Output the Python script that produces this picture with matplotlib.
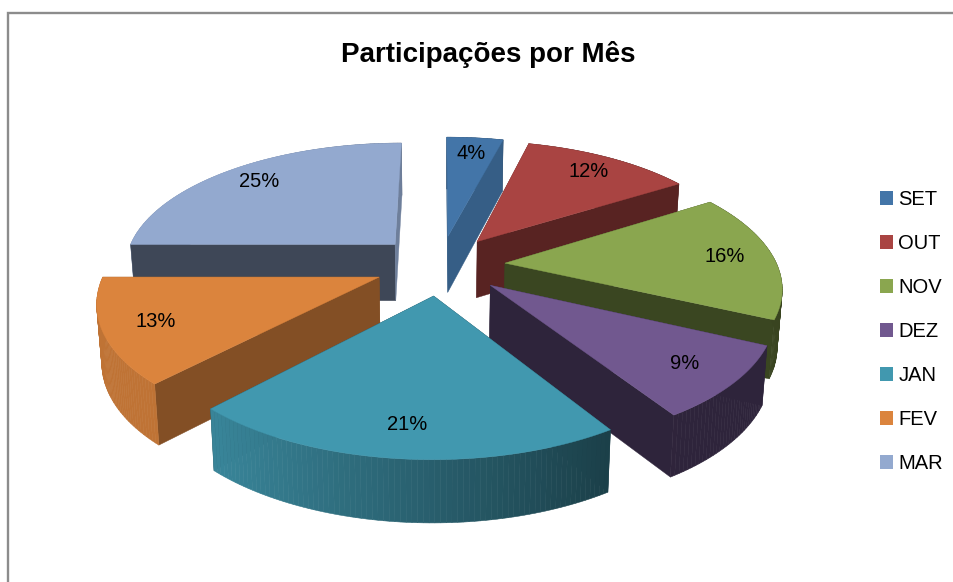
import numpy as np
import matplotlib
matplotlib.use("Agg")
import matplotlib.pyplot as plt
from matplotlib.patches import Patch
from matplotlib.colors import to_rgb

plt.rcParams['font.family'] = ['Liberation Sans', 'DejaVu Sans']

# data
title = "Participações por Mês"
months = ["SET", "OUT", "NOV", "DEZ", "JAN", "FEV", "MAR"]
shares = [4, 12, 16, 9, 21, 13, 25]

# styles
colors = ["#4375A8", "#A94442", "#8AA64F", "#71588F", "#4198AF", "#DB843D", "#93A9CF"]
start_wall_shade = [0.80, 0.52, 0.42, 0.41, 0.41, 0.60, 0.42]
end_wall_shade = [0.80, 0.52, 0.42, 0.41, 0.41, 0.60, 0.75]
draw_order = [6, 0, 1, 2, 3, 5, 4]

# projection parameters of the pie, in pixels of the figure
CX, CY, A, B, K = 440.0, 265.0, 272.0, 124.6, 0.167
EXPLODE = 0.24
HEIGHT, HK, XSHRINK = 57.0, 0.08, 0.985
LABEL_R = 0.82


def project(X, Y):
    w = 1 + K * Y
    return CX + A * X / w, CY - B * Y / w


def project_low(X, Y):
    x, y = project(X, Y)
    return CX + (x - CX) * XSHRINK, y + HEIGHT / (1 + HK * Y)


def shade(col, f):
    return tuple(c * f for c in to_rgb(col))


def outer_shade(t):
    return float(np.clip(0.62 - 0.38 * np.sin(t), 0.41, 0.87))


fig = plt.figure(figsize=(9.54, 5.82), dpi=100)
ax = fig.add_axes([0, 0, 1, 1])
ax.set_xlim(0, 954)
ax.set_ylim(582, 0)
ax.axis("off")

# chart frame
ax.plot([8, 8, 960], [590, 13, 13], color="#8c8c8c", lw=1.7, solid_joinstyle="miter", zorder=0)

fractions = np.array(shares, float) / sum(shares)
edges = np.concatenate([[0], np.cumsum(fractions)]) * 2 * np.pi

for z, i in enumerate(draw_order):
    t0, t1 = edges[i], edges[i + 1]
    mid = (t0 + t1) / 2
    ox, oy = EXPLODE * np.sin(mid), EXPLODE * np.cos(mid)
    ts = np.linspace(t0, t1, max(6, int((t1 - t0) * 60)))
    Xs, Ys = ox + np.sin(ts), oy + np.cos(ts)
    base = 10 * z + 1
    col = colors[i]

    def quad(t_a, t_b, zo):
        Xq = ox + np.sin([t_a, t_b])
        Yq = oy + np.cos([t_a, t_b])
        xt, yt = project(Xq, Yq)
        xb, yb = project_low(Xq, Yq)
        c = shade(col, outer_shade((t_a + t_b) / 2))
        ax.fill([xt[0], xt[1], xb[1], xb[0]], [yt[0], yt[1], yb[1], yb[0]],
                facecolor=c, edgecolor=c, lw=0.4, zorder=zo)

    # back-facing part of the rim, then radial walls, then the front of the rim
    for a, b in zip(ts[:-1], ts[1:]):
        front = np.cos((a + b) / 2) < 0
        quad(a, b, base + (3 if front else 0))

    for t, f in ((t0, start_wall_shade[i]), (t1, end_wall_shade[i])):
        Xw = np.array([ox, ox + np.sin(t)])
        Yw = np.array([oy, oy + np.cos(t)])
        xt, yt = project(Xw, Yw)
        xb, yb = project_low(Xw, Yw)
        c = shade(col, f)
        ax.fill([xt[0], xt[1], xb[1], xb[0]], [yt[0], yt[1], yb[1], yb[0]],
                facecolor=c, edgecolor=c, lw=0.3,
                zorder=base + (2 if f >= end_wall_shade[i] else 1))

    px, py = project(np.r_[ox, Xs], np.r_[oy, Ys])
    ax.fill(px, py, facecolor=col, edgecolor=col, lw=0.3, zorder=base + 4)

    lx, ly = project(ox + LABEL_R * np.sin(mid), oy + LABEL_R * np.cos(mid))
    ax.text(lx, ly, f"{shares[i]}%", ha="center", va="center", fontsize=14.5,
            color="black", zorder=200)

ax.text(488, 54, title, ha="center", va="center", fontsize=20, fontweight="bold", color="black")

handles = [Patch(facecolor=c, edgecolor="none", label=m) for c, m in zip(colors, months)]
ax.legend(handles=handles, loc="upper left", bbox_to_anchor=(874 / 954, 1 - 184 / 582),
          frameon=False, fontsize=14.5, handlelength=0.65, handleheight=0.65,
          handletextpad=0.25, labelspacing=1.24, borderpad=0, borderaxespad=0.3)

fig.savefig("out.png", dpi=100)
